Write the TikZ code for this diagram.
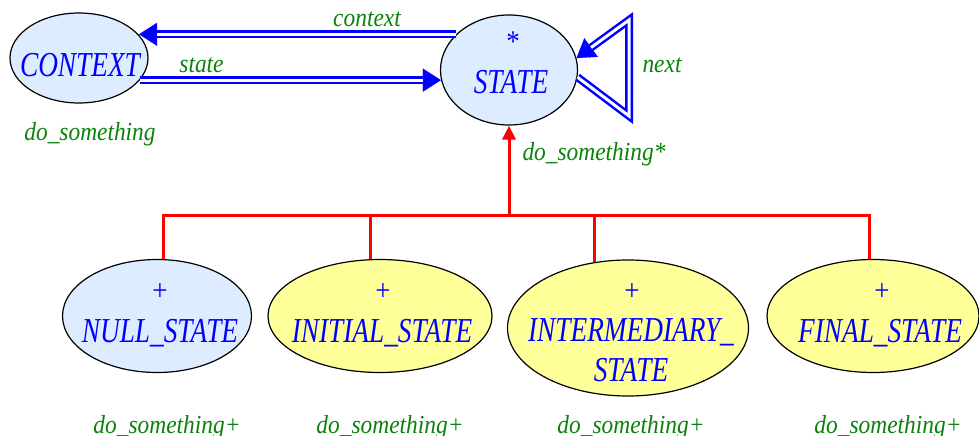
\documentclass[tikz,border=0pt]{standalone}
\usepackage{fontspec}
\usetikzlibrary{arrows.meta,shapes.geometric}
\newfontfamily\bigfont{Liberation Serif}[FakeStretch=0.78]
\newfontfamily\labfont{Liberation Serif}[FakeStretch=0.9]
\definecolor{txtblue}{RGB}{0,0,255}
\definecolor{lblgreen}{RGB}{10,130,10}
\definecolor{fillblue}{RGB}{221,236,255}
\definecolor{fillyellow}{RGB}{255,255,153}
\definecolor{arrblue}{RGB}{0,0,255}
\definecolor{redline}{RGB}{255,0,0}
\begin{document}
\begin{tikzpicture}[x=1pt,y=-1pt,
  cls/.style={ellipse, draw=black, line width=1.2pt, inner sep=0pt},
  blueobj/.style={cls, fill=fillblue},
  yellowobj/.style={cls, fill=fillyellow},
  bigtxt/.style={inner sep=0pt, text=txtblue, font=\bigfont\itshape\fontsize{35}{40}\selectfont},
  marktxt/.style={inner sep=0pt, text=txtblue, font=\labfont\fontsize{30}{34}\selectfont},
  lbl/.style={inner sep=0pt, text=lblgreen, font=\labfont\itshape\fontsize{26}{30}\selectfont},
  dblouter/.style={draw=arrblue, line width=8pt, line join=miter, -{Triangle[length=18pt,width=23pt,line width=0.1pt]}},
  dblinner/.style={draw=white, line width=3pt, line join=miter, shorten >=18pt},
  inh/.style={draw=redline, line width=3pt, line join=miter},
]
\useasboundingbox (0,0) rectangle (979,436);

% classes
\node[blueobj, minimum width=138pt, minimum height=90pt] (ctx) at (79,58) {};
\node[blueobj, minimum width=137pt, minimum height=110pt] (st) at (509,70) {};
\node[blueobj, minimum width=189pt, minimum height=113pt] (ns) at (157,316) {};
\node[yellowobj, minimum width=224pt, minimum height=113pt] (is) at (380,316) {};
\node[yellowobj, minimum width=241pt, minimum height=136pt] (ims) at (628,328) {};
\node[yellowobj, minimum width=212pt, minimum height=113pt] (fs) at (873,316) {};

% class names
\node[bigtxt, anchor=base] (ctxname) at (80,77) {CONTEXT};
\node[marktxt, anchor=base] (stmark) at (513,52) {*};
\node[bigtxt, anchor=base] (stname) at (511,93) {STATE};
\node[marktxt, anchor=base] (nsmark) at (160,300) {+};
\node[bigtxt, anchor=base] (nsname) at (160,342) {NULL\_STATE};
\node[marktxt, anchor=base] (ismark) at (383,300) {+};
\node[bigtxt, anchor=base] (isname) at (382,342) {INITIAL\_STATE};
\node[marktxt, anchor=base] (imsmark) at (632,300) {+};
\node[bigtxt, anchor=north, align=center] (imsname) at (631,318.5) {INTERMEDIARY\_\\STATE};
\node[marktxt, anchor=base] (fsmark) at (882,300) {+};
\node[bigtxt, anchor=base] (fsname) at (880,342) {FINAL\_STATE};

% client links
\draw[dblouter] (st.146.5) -- (ctx.21 |- st.146.5);
\draw[dblinner] (st.146.5) -- (ctx.21 |- st.146.5);
\draw[dblouter] (ctx.-20) -- (ctx.-20 -| st.188.4);
\draw[dblinner] (ctx.-20) -- (ctx.-20 -| st.188.4);
\coordinate (loopbot) at (629,116);
\coordinate (looptop) at (629,20);
\draw[dblouter] (st.-6.7) -- (loopbot) -- (looptop) -- (st.10);
\draw[dblinner] (st.-6.7) -- (loopbot) -- (looptop) -- (st.10);

% inheritance
\coordinate (bar) at (509,215);
\draw[inh] (ns.83) -- (ns.83 |- bar) -- (fs.94 |- bar) -- (fs.94);
\draw[inh] (is.99) -- (is.99 |- bar);
\draw[inh] (ims.117.5) -- (ims.117.5 |- bar);
\draw[inh, -{Triangle[length=14pt,width=13pt]}] (bar) -- (st.south);

% labels
\node[lbl, anchor=base] (lcontext) at (367,27) {context};
\node[lbl, anchor=base] (lstate) at (201.5,73) {state};
\node[lbl, anchor=base] (lnext) at (662,72) {next};
\node[lbl, anchor=base] (ctxop) at (90,140) {do\_something};
\node[lbl, anchor=base] (stop) at (594,160) {do\_something*};
\node[lbl, anchor=base] (nsop) at (167,433) {do\_something+};
\node[lbl, anchor=base] (isop) at (390,433) {do\_something+};
\node[lbl, anchor=base] (imsop) at (631,433) {do\_something+};
\node[lbl, anchor=base] (fsop) at (888,433) {do\_something+};
\end{tikzpicture}
\end{document}
